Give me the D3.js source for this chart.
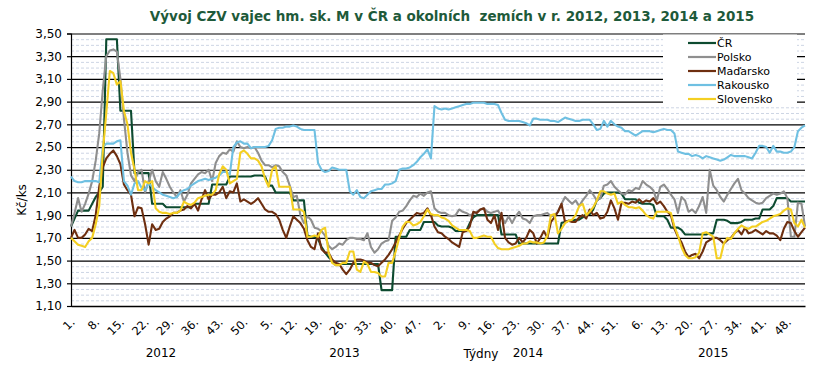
<!DOCTYPE html>
<html>
<head>
<meta charset="utf-8">
<script src="https://cdn.jsdelivr.net/npm/d3@7/dist/d3.min.js"></script>
<style>
  body { margin: 0; background: #fff; }
  svg { display: block; font-family: "DejaVu Sans", Verdana, sans-serif; }
</style>
</head>
<body>
<svg id="chart" width="825" height="374"></svg>
<script>
// Years and number of weeks per year on the category axis
const years = [2012, 2013, 2014, 2015];
const weeksInYear = [52, 52, 52, 53];
const yTicks = [1.10, 1.30, 1.50, 1.70, 1.90, 2.10, 2.30, 2.50, 2.70, 2.90, 3.10, 3.30, 3.50];
const seriesNames = ['ČR', 'Polsko', 'Maďarsko', 'Rakousko', 'Slovensko'];
const seriesColors = ['#0d4b30', '#8f8f8f', '#6e2f10', '#6fc0e2', '#f4cf22'];

// Kč/ks, one value per week (2012 | 2013 | 2014 | 2015)
const cr = [
  1.80, 1.87, 1.94, 1.94, 1.94, 1.94, 2.00, 2.06, 2.10, 2.15, 3.45, 3.45, 3.45, 3.45, 2.82, 2.82, 2.82, 2.82, 2.27, 2.27, 2.27, 2.27, 2.27, 2.00, 2.00, 2.00, 2.00, 1.97, 1.97, 1.97, 1.97, 1.97, 1.97, 1.97, 1.97, 2.00, 2.00, 2.00, 2.00, 2.00, 2.17, 2.17, 2.17, 2.17, 2.17, 2.24, 2.24, 2.24, 2.24, 2.24, 2.24, 2.24,
  2.25, 2.25, 2.25, 2.24, 2.16, 2.16, 2.10, 2.10, 2.10, 2.10, 2.10, 2.03, 2.03, 2.03, 2.03, 1.72, 1.71, 1.71, 1.69, 1.62, 1.57, 1.53, 1.50, 1.46, 1.47, 1.47, 1.47, 1.47, 1.47, 1.47, 1.47, 1.47, 1.47, 1.47, 1.47, 1.47, 1.24, 1.24, 1.24, 1.24, 1.71, 1.71, 1.71, 1.71, 1.77, 1.77, 1.77, 1.77, 1.84, 1.84, 1.84, 1.84,
  1.81, 1.80, 1.80, 1.80, 1.79, 1.76, 1.76, 1.76, 1.76, 1.83, 1.88, 1.90, 1.90, 1.90, 1.90, 1.90, 1.90, 1.90, 1.73, 1.73, 1.73, 1.73, 1.73, 1.65, 1.65, 1.65, 1.65, 1.65, 1.65, 1.65, 1.65, 1.65, 1.65, 1.65, 1.65, 1.83, 1.84, 1.85, 1.85, 1.86, 1.86, 1.88, 1.91, 1.91, 1.95, 2.03, 2.05, 2.09, 2.10, 2.10, 2.10, 2.10,
  2.09, 2.04, 2.04, 2.04, 2.04, 2.01, 2.00, 2.00, 2.00, 1.99, 1.89, 1.89, 1.89, 1.86, 1.79, 1.79, 1.79, 1.77, 1.73, 1.73, 1.73, 1.73, 1.73, 1.73, 1.73, 1.74, 1.74, 1.86, 1.86, 1.86, 1.85, 1.83, 1.83, 1.83, 1.84, 1.86, 1.86, 1.86, 1.87, 1.87, 1.95, 1.95, 1.95, 1.98, 2.05, 2.05, 2.05, 2.05, 2.02, 2.02, 2.02, 2.02, 2.02
];
const polsko = [
  1.80, 1.92, 2.05, 1.93, 2.00, 2.09, 2.20, 2.38, 2.62, 3.00, 3.30, 3.35, 3.36, 3.34, 3.10, 2.75, 2.45, 2.25, 2.20, 2.28, 2.30, 2.10, 2.20, 2.30, 2.20, 2.15, 2.28, 2.22, 2.15, 2.10, 2.06, 2.12, 2.02, 2.08, 2.18, 2.22, 2.26, 2.28, 2.27, 2.30, 2.20, 2.36, 2.42, 2.45, 2.44, 2.48, 2.46, 2.55, 2.50, 2.49, 2.50, 2.49,
  2.50, 2.45, 2.38, 2.34, 2.34, 2.32, 2.34, 2.33, 2.28, 2.25, 2.16, 2.06, 2.07, 1.90, 1.83, 1.89, 1.86, 1.79, 1.78, 1.76, 1.72, 1.63, 1.60, 1.62, 1.65, 1.64, 1.68, 1.70, 1.70, 1.69, 1.69, 1.68, 1.74, 1.62, 1.57, 1.60, 1.65, 1.67, 1.68, 1.85, 1.88, 1.93, 1.94, 1.98, 2.03, 2.07, 2.06, 2.09, 2.07, 2.10, 2.11, 1.96,
  1.93, 1.92, 1.92, 1.90, 1.89, 1.90, 1.95, 1.93, 1.92, 1.90, 1.91, 1.93, 1.95, 1.96, 1.93, 1.92, 1.93, 1.94, 1.89, 1.83, 1.89, 1.83, 1.89, 1.93, 1.87, 1.86, 1.83, 1.89, 1.90, 1.90, 1.91, 1.92, 1.89, 1.90, 1.93, 2.00, 2.06, 2.03, 2.00, 2.03, 1.98, 2.03, 2.07, 2.12, 2.08, 2.03, 2.05, 2.16, 2.17, 2.20, 2.15, 2.12,
  2.09, 2.08, 2.12, 2.11, 2.14, 2.13, 2.20, 2.17, 2.15, 2.12, 2.03, 2.15, 2.17, 2.13, 2.08, 2.04, 1.92, 2.06, 2.03, 1.93, 1.95, 1.92, 1.98, 2.06, 1.92, 2.30, 2.16, 2.12, 2.06, 2.02, 2.08, 2.13, 2.18, 2.22, 2.12, 2.09, 2.05, 2.03, 2.01, 2.00, 2.01, 2.05, 2.07, 2.09, 2.08, 2.09, 2.11, 2.05, 1.71, 1.71, 2.01, 2.00, 1.80
];
const madarsko = [
  1.70, 1.77, 1.70, 1.70, 1.73, 1.78, 1.76, 1.90, 2.15, 2.32, 2.40, 2.44, 2.47, 2.42, 2.35, 2.17, 2.12, 2.08, 1.89, 1.97, 1.96, 1.82, 1.64, 1.82, 1.77, 1.78, 1.84, 1.87, 1.89, 1.92, 1.92, 1.94, 1.95, 1.98, 1.96, 2.00, 1.94, 2.04, 2.12, 2.04, 2.08, 2.08, 2.10, 2.15, 2.05, 2.11, 2.10, 2.18, 2.02, 2.04, 2.02, 2.00,
  2.02, 2.05, 2.00, 1.95, 1.93, 1.93, 1.91, 1.86, 1.77, 1.70, 1.80, 1.89, 1.86, 1.83, 1.78, 1.68, 1.62, 1.60, 1.74, 1.60, 1.57, 1.57, 1.51, 1.48, 1.47, 1.42, 1.38, 1.42, 1.48, 1.51, 1.51, 1.50, 1.48, 1.48, 1.46, 1.45, 1.48, 1.51, 1.55, 1.60, 1.66, 1.72, 1.78, 1.83, 1.86, 1.89, 1.92, 1.91, 1.92, 1.96, 1.90, 1.80,
  1.75, 1.74, 1.71, 1.69, 1.66, 1.64, 1.62, 1.75, 1.76, 1.80, 1.93, 1.92, 1.95, 1.96, 1.86, 1.83, 1.90, 1.77, 1.92, 1.70, 1.66, 1.64, 1.65, 1.70, 1.66, 1.70, 1.77, 1.74, 1.65, 1.70, 1.76, 1.70, 1.84, 1.88, 1.93, 2.00, 1.84, 1.85, 1.84, 1.84, 1.88, 1.90, 1.87, 1.95, 1.90, 1.92, 1.87, 1.88, 1.93, 2.03, 1.96, 1.86,
  2.01, 2.01, 2.00, 2.02, 2.01, 2.04, 2.01, 2.03, 2.02, 2.05, 2.00, 2.02, 1.98, 1.93, 1.90, 1.78, 1.71, 1.66, 1.58, 1.53, 1.55, 1.56, 1.52, 1.58, 1.66, 1.68, 1.70, 1.70, 1.68, 1.65, 1.68, 1.70, 1.74, 1.77, 1.73, 1.79, 1.74, 1.75, 1.77, 1.75, 1.73, 1.76, 1.74, 1.74, 1.72, 1.68, 1.78, 1.84, 1.83, 1.76, 1.71, 1.75, 1.79
];
const rakousko = [
  2.24, 2.20, 2.19, 2.19, 2.20, 2.20, 2.20, 2.20, 2.19, 2.50, 2.53, 2.53, 2.53, 2.55, 2.56, 2.20, 2.16, 2.08, 2.18, 2.20, 2.14, 2.12, 2.18, 2.15, 2.12, 2.10, 2.08, 2.07, 2.06, 2.05, 2.06, 2.10, 2.12, 2.13, 2.16, 2.18, 2.20, 2.21, 2.22, 2.21, 2.22, 2.23, 2.25, 2.28, 2.28, 2.26, 2.50, 2.54, 2.55, 2.53, 2.53, 2.49,
  2.50, 2.50, 2.50, 2.50, 2.51, 2.56, 2.66, 2.67, 2.67, 2.68, 2.68, 2.69, 2.68, 2.66, 2.65, 2.65, 2.65, 2.65, 2.36, 2.30, 2.28, 2.29, 2.32, 2.31, 2.30, 2.30, 2.30, 2.11, 2.08, 2.12, 2.06, 2.05, 2.08, 2.11, 2.12, 2.13, 2.13, 2.17, 2.17, 2.18, 2.20, 2.30, 2.31, 2.31, 2.32, 2.34, 2.37, 2.41, 2.44, 2.48, 2.40, 2.86,
  2.84, 2.83, 2.84, 2.83, 2.84, 2.85, 2.86, 2.87, 2.88, 2.88, 2.89, 2.89, 2.89, 2.89, 2.88, 2.88, 2.88, 2.87, 2.80, 2.74, 2.73, 2.73, 2.73, 2.73, 2.72, 2.71, 2.69, 2.75, 2.75, 2.74, 2.74, 2.74, 2.73, 2.73, 2.72, 2.74, 2.76, 2.75, 2.74, 2.73, 2.73, 2.74, 2.74, 2.74, 2.70, 2.65, 2.66, 2.73, 2.68, 2.73, 2.70, 2.68,
  2.67, 2.64, 2.64, 2.62, 2.60, 2.62, 2.64, 2.64, 2.64, 2.63, 2.64, 2.65, 2.66, 2.65, 2.65, 2.62, 2.46, 2.45, 2.44, 2.44, 2.42, 2.43, 2.42, 2.40, 2.42, 2.41, 2.40, 2.39, 2.38, 2.39, 2.41, 2.43, 2.42, 2.42, 2.42, 2.42, 2.41, 2.40, 2.45, 2.51, 2.51, 2.50, 2.45, 2.51, 2.46, 2.46, 2.45, 2.45, 2.46, 2.50, 2.64, 2.67, 2.69
];
const slovensko = [
  1.70, 1.67, 1.64, 1.63, 1.62, 1.67, 1.70, 1.82, 1.98, 2.45, 2.80, 3.17, 3.15, 3.05, 3.08, 2.82, 2.70, 2.45, 2.30, 2.12, 2.12, 2.20, 2.18, 2.20, 1.96, 1.93, 1.92, 1.92, 1.91, 1.92, 1.92, 1.94, 2.02, 2.00, 1.99, 2.01, 2.05, 2.06, 2.07, 2.08, 2.08, 2.12, 2.26, 2.33, 2.30, 2.18, 2.20, 2.22, 2.45, 2.47, 2.44, 2.40,
  2.40, 2.38, 2.33, 2.22, 2.15, 2.30, 2.33, 2.15, 2.15, 2.15, 2.15, 1.95, 1.95, 1.95, 1.93, 1.71, 1.71, 1.72, 1.71, 1.77, 1.79, 1.57, 1.48, 1.46, 1.46, 1.48, 1.48, 1.58, 1.58, 1.42, 1.40, 1.49, 1.47, 1.40, 1.40, 1.39, 1.36, 1.36, 1.48, 1.48, 1.58, 1.70, 1.80, 1.84, 1.84, 1.81, 1.82, 1.84, 1.89, 1.95, 1.91, 1.90,
  1.90, 1.88, 1.87, 1.85, 1.81, 1.79, 1.77, 1.77, 1.77, 1.76, 1.70, 1.70, 1.71, 1.72, 1.71, 1.71, 1.65, 1.61, 1.60, 1.60, 1.60, 1.61, 1.62, 1.63, 1.65, 1.65, 1.67, 1.66, 1.66, 1.65, 1.66, 1.72, 1.90, 1.91, 1.74, 1.78, 1.83, 1.85, 1.86, 1.90, 1.98, 2.00, 1.90, 1.93, 1.97, 2.03, 2.11, 2.11, 2.09, 2.08, 2.09, 2.00,
  2.02, 1.99, 1.97, 1.97, 1.96, 1.97, 1.94, 1.90, 1.88, 1.87, 1.93, 1.93, 1.93, 1.93, 1.92, 1.80, 1.72, 1.62, 1.55, 1.52, 1.52, 1.53, 1.57, 1.74, 1.75, 1.73, 1.71, 1.52, 1.52, 1.65, 1.70, 1.69, 1.74, 1.78, 1.81, 1.79, 1.78, 1.80, 1.80, 1.82, 1.84, 1.85, 1.87, 1.89, 1.90, 1.91, 1.94, 1.96, 1.95, 1.83, 1.80, 1.86, 1.79
];

const series = [cr, polsko, madarsko, rakousko, slovensko];

// Plot frame
const plot = {left: 71, top: 33.5, right: 805, bottom: 306};
const svg = d3.select('#chart');

// Build the week categories from the year table
const weeks = [];
years.forEach((yr, k) => {
  for (let w = 1; w <= weeksInYear[k]; w++) weeks.push({year: yr, week: w});
});

const x = d3.scalePoint()
    .domain(d3.range(weeks.length))
    .range([plot.left, plot.right]);

const y = d3.scaleLinear()
    .domain([1.1, 3.5])
    .range([plot.bottom, plot.top]);

const fmt = v => d3.format('.2f')(v).replace('.', ',');

// Minor gridlines (every 0,05)
const minorVals = d3.range(1.15, 3.5, 0.05).filter(v => Math.abs((v - 1.1) / 0.2 - Math.round((v - 1.1) / 0.2)) > 0.01);
svg.append('g')
    .attr('class', 'grid-minor')
    .attr('transform', `translate(${plot.left},0)`)
    .call(d3.axisLeft(y).tickValues(minorVals).tickSize(-(plot.right - plot.left)).tickFormat(''))
    .call(g => g.select('.domain').remove())
    .selectAll('line')
      .attr('stroke', '#cdd5e4')
      .attr('stroke-dasharray', '3,2');

// Major gridlines
svg.append('g')
    .attr('class', 'grid-major')
    .attr('transform', `translate(${plot.left},0)`)
    .call(d3.axisLeft(y).tickValues(yTicks).tickSize(-(plot.right - plot.left)).tickFormat(''))
    .call(g => g.select('.domain').remove())
    .selectAll('line')
      .attr('stroke', '#000')
      .attr('stroke-width', 1.2);

// Y axis
svg.append('g')
    .attr('class', 'axis axis--y')
    .attr('transform', `translate(${plot.left},0)`)
    .call(d3.axisLeft(y).tickValues(yTicks).tickSize(4).tickPadding(5).tickFormat(fmt))
    .call(g => g.selectAll('text').attr('font-size', 12).attr('fill', '#000').attr('font-family', '"DejaVu Sans", Verdana, sans-serif'))
    .call(g => g.selectAll('line, path').attr('stroke', '#000').attr('stroke-width', 1.2));

// X axis with week labels every 7 weeks
const xAxis = svg.append('g')
    .attr('class', 'axis axis--x')
    .attr('transform', `translate(0,${plot.bottom})`)
    .call(d3.axisBottom(x)
      .tickValues(d3.range(0, weeks.length, 7))
      .tickSize(0)
      .tickFormat(i => weeks[i].week + '.'));
xAxis.select('.domain').attr('stroke', '#000').attr('stroke-width', 1.3);
xAxis.selectAll('text')
    .attr('font-size', 11.5)
    .attr('font-family', '"DejaVu Sans", Verdana, sans-serif')
    .attr('fill', '#000')
    .attr('text-anchor', 'end')
    .attr('y', 0)
    .attr('dy', 0)
    .attr('transform', 'translate(4,17) rotate(-45)');

// Year labels centered under each year
let start = 0;
years.forEach((yr, k) => {
  const mid = start + (weeksInYear[k] - 1) / 2;
  svg.append('text')
      .attr('x', x(Math.floor(mid)) + (mid % 1 ? x.step() / 2 : 0))
      .attr('y', 357)
      .attr('text-anchor', 'middle')
      .attr('font-size', 12)
      .text(yr);
  start += weeksInYear[k];
});

svg.append('text')
    .attr('x', 481)
    .attr('y', 358)
    .attr('text-anchor', 'middle')
    .attr('font-size', 12)
    .text('Týdny');

svg.append('text')
    .attr('transform', 'translate(26,200) rotate(-90)')
    .attr('text-anchor', 'middle')
    .attr('font-size', 12)
    .text('Kč/ks');

// Title
svg.append('text')
    .attr('x', 452)
    .attr('y', 21)
    .attr('text-anchor', 'middle')
    .attr('font-size', 13.5)
    .attr('font-weight', 'bold')
    .attr('fill', '#1e5a3a')
    .text('Vývoj CZV vajec hm. sk. M v ČR a okolních  zemích v r. 2012, 2013, 2014 a 2015')
    .style('white-space', 'pre');

// Series lines
const line = d3.line()
    .x((d, i) => x(i))
    .y(d => y(d));

svg.append('g')
    .attr('class', 'lines')
  .selectAll('path')
  .data(series)
  .join('path')
    .attr('fill', 'none')
    .attr('stroke', (d, i) => seriesColors[i])
    .attr('stroke-width', 2.1)
    .attr('stroke-linejoin', 'round')
    .attr('d', line);

// Legend
const legend = svg.append('g').attr('class', 'legend');
legend.append('rect')
    .attr('x', 663).attr('y', 34.5)
    .attr('width', 134).attr('height', 71)
    .attr('fill', '#fff');
seriesNames.forEach((name, i) => {
  const ly = 43 + i * 14;
  legend.append('line')
      .attr('x1', 688).attr('x2', 716)
      .attr('y1', ly).attr('y2', ly)
      .attr('stroke', seriesColors[i])
      .attr('stroke-width', 2.2);
  legend.append('text')
      .attr('x', 717).attr('y', ly + 4)
      .attr('font-size', 11)
      .text(name);
});
</script>
</body>
</html>
